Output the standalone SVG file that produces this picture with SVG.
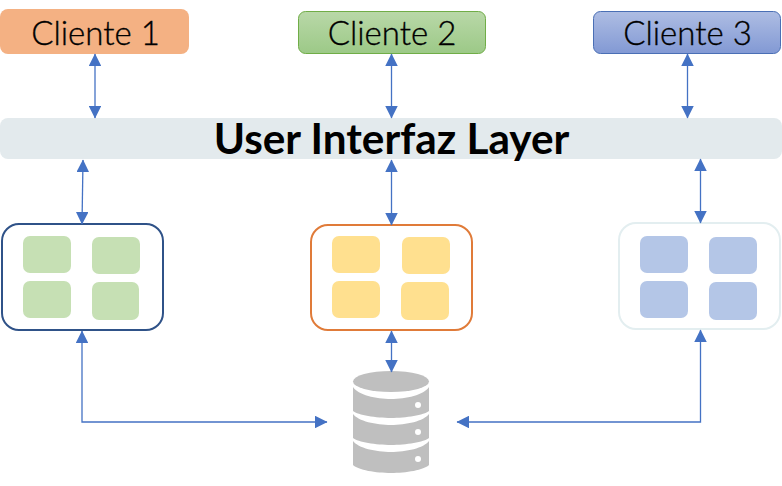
<svg xmlns="http://www.w3.org/2000/svg" width="782" height="486" viewBox="0 0 782 486">
<defs>
<linearGradient id="gG" x1="0" y1="0" x2="0" y2="1"><stop offset="0" stop-color="#b9d8a8"/><stop offset="1" stop-color="#9cc987"/></linearGradient>
<linearGradient id="gB" x1="0" y1="0" x2="0" y2="1"><stop offset="0" stop-color="#aebde3"/><stop offset="1" stop-color="#8299d4"/></linearGradient>
<marker id="a" viewBox="0 0 12 12" refX="11.5" refY="6" markerWidth="12.500" markerHeight="12.500" markerUnits="userSpaceOnUse" orient="auto-start-reverse"><path d="M0 0L12 6L0 12Z" fill="#4472c4"/></marker>
</defs>
<style>
text{font-family:Lato,"Open Sans",sans-serif;text-anchor:middle;fill:#000}
.c{font-size:33px;font-weight:300;stroke:#000;stroke-width:.35}
.l{fill:none;stroke:#4472c4;stroke-width:1.3;marker-start:url(#a);marker-end:url(#a)}
.g{fill:#c6e0b4}.y{fill:#ffe08f}.b{fill:#b4c6e7}
.d{fill:#bfbfbf}
</style>
<rect width="782" height="486" fill="#fff"/>
<g id="cliente1"><rect x="0" y="9" width="189" height="45" rx="8" fill="#f4b183"/><text class="c" x="95.500" y="45">Cliente 1</text></g>
<g id="cliente2"><rect x="298.500" y="11.500" width="187" height="42" rx="7" fill="url(#gG)" stroke="#70ad47"/><text class="c" x="392" y="45">Cliente 2</text></g>
<g id="cliente3"><rect x="593.500" y="11.500" width="187" height="42" rx="7" fill="url(#gB)" stroke="#4a6fb5"/><text class="c" x="687.500" y="45">Cliente 3</text></g>
<g id="ui"><rect x="0" y="118" width="782" height="41" rx="8" fill="#e3eaed"/><text x="391.500" y="153.500" font-size="42.300" font-weight="700">User Interfaz Layer</text></g>
<g id="mod1"><rect x="2" y="224" width="161" height="106" rx="17" fill="#fff" stroke="#2f5288" stroke-width="2"/>
<rect class="g" x="23" y="236" width="48" height="37" rx="7"/><rect class="g" x="92" y="237" width="48" height="37" rx="7"/><rect class="g" x="23" y="281" width="48" height="37" rx="7"/><rect class="g" x="92" y="282" width="47" height="38" rx="7"/></g>
<g id="mod2"><rect x="311" y="225" width="161" height="105" rx="17" fill="#fff" stroke="#e07b39" stroke-width="2"/>
<rect class="y" x="332" y="236" width="48" height="37" rx="7"/><rect class="y" x="402" y="237" width="48" height="37" rx="7"/><rect class="y" x="332" y="281" width="48" height="37" rx="7"/><rect class="y" x="401" y="282" width="48" height="38" rx="7"/></g>
<g id="mod3"><rect x="619" y="223" width="161" height="106" rx="17" fill="#fff" stroke="#e3eef0" stroke-width="2"/>
<rect class="b" x="640" y="236" width="48" height="37" rx="7"/><rect class="b" x="709" y="237" width="48" height="37" rx="7"/><rect class="b" x="640" y="281" width="48" height="37" rx="7"/><rect class="b" x="709" y="282" width="48" height="38" rx="7"/></g>
<g id="db">
<ellipse class="d" cx="391" cy="381.500" rx="38" ry="10.500"/>
<path class="d" d="M353 387C358 395 376 399 391 399C406 399 424 395 429 387V411C424 415 406 418 391 418C376 418 358 415 353 411Z"/>
<path class="d" d="M353 414C358 421 376 425 391 425C406 425 424 421 429 414V438C424 442 406 445 391 445C376 445 358 442 353 438Z"/>
<path class="d" d="M353 441C358 448 376 452 391 452C406 452 424 448 429 441V465C424 470 406 473 391 473C376 473 358 470 353 465Z"/>
<circle cx="418" cy="405" r="3" fill="#fff"/><circle cx="418" cy="432" r="3" fill="#fff"/><circle cx="418" cy="459" r="3" fill="#fff"/>
</g>
<g id="connectors">
<line class="l" x1="95" y1="54" x2="95" y2="118"/>
<line class="l" x1="391.500" y1="54" x2="391.500" y2="118"/>
<line class="l" x1="687.500" y1="54" x2="687.500" y2="118"/>
<line class="l" x1="83" y1="160" x2="82" y2="224"/>
<line class="l" x1="391.500" y1="160" x2="391.500" y2="225"/>
<line class="l" x1="700.500" y1="159" x2="700.500" y2="223"/>
<line class="l" x1="391.500" y1="331" x2="391.500" y2="372"/>
<polyline class="l" points="82,331 82,422 327,422"/>
<polyline class="l" points="700.500,330 700.500,422 457,422"/>
</g>
</svg>
